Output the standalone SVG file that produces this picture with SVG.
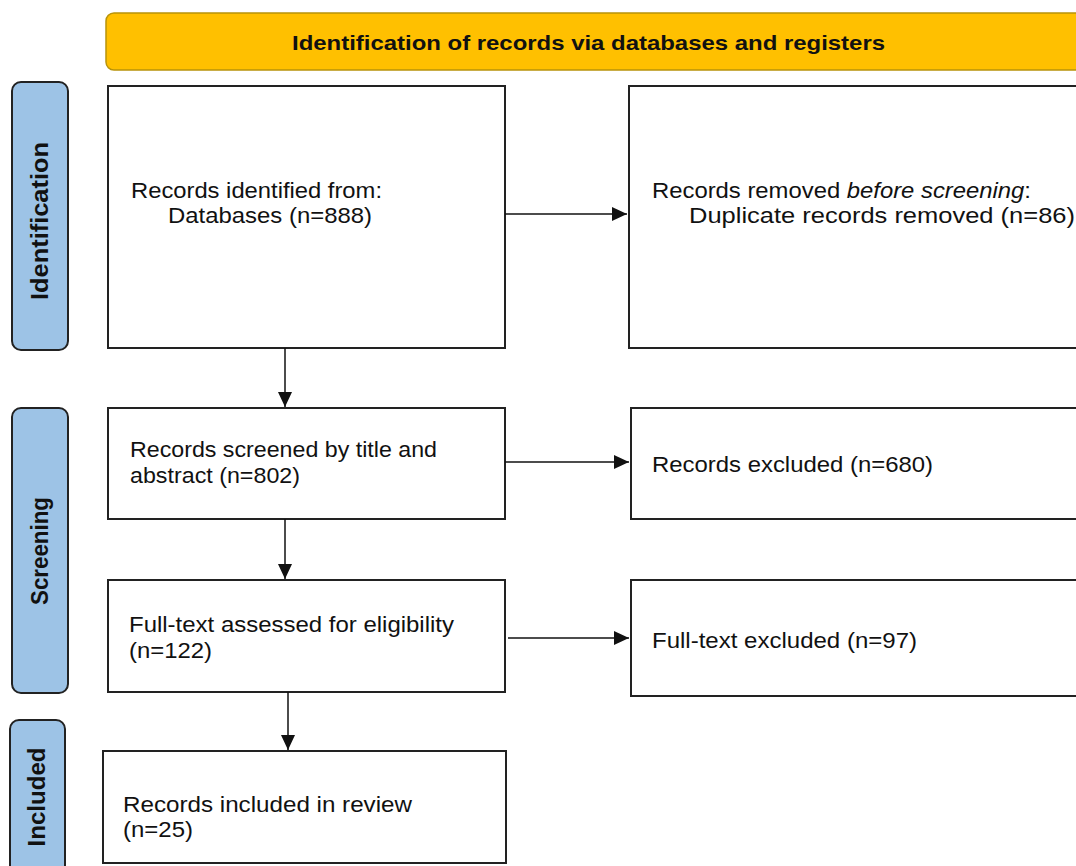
<svg xmlns="http://www.w3.org/2000/svg" width="1076" height="866" viewBox="0 0 1076 866">
<defs>
<marker id="ah" markerWidth="15" markerHeight="14" refX="15" refY="7" orient="auto" markerUnits="userSpaceOnUse">
<path d="M0,0 L15,7 L0,14 Z" fill="#111"/>
</marker>
<style>
.box{fill:#fff;stroke:#222;stroke-width:2}
.side{fill:#9DC3E6;stroke:#222;stroke-width:2}
.banner{fill:#FFC000;stroke:#B8930A;stroke-width:1.5}
.t{font-family:"Liberation Sans",Arial,sans-serif;font-size:22.5px;fill:#111}
.b{font-family:"Liberation Sans",Arial,sans-serif;font-size:21px;font-weight:bold;fill:#111}
.s{font-family:"Liberation Sans",Arial,sans-serif;font-size:23px;font-weight:bold;fill:#111}
.c{stroke:#111;stroke-width:1.5;fill:none;marker-end:url(#ah)}
</style>
</defs>
<rect width="1076" height="866" fill="#fff"/>
<g id="banner">
<rect class="banner" x="106" y="13" width="990" height="57" rx="8"/>
<text class="b" x="292" y="50" textLength="593" lengthAdjust="spacingAndGlyphs">Identification of records via databases and registers</text>
</g>
<g id="phase-identification">
<rect class="side" x="12" y="82" width="56" height="268" rx="9"/>
<text class="s" transform="translate(48,221) rotate(-90)" text-anchor="middle" textLength="158" lengthAdjust="spacingAndGlyphs">Identification</text>
</g>
<g id="phase-screening">
<rect class="side" x="12" y="408" width="56" height="285" rx="9"/>
<text class="s" transform="translate(48,551) rotate(-90)" text-anchor="middle" textLength="108" lengthAdjust="spacingAndGlyphs">Screening</text>
</g>
<g id="phase-included">
<rect class="side" x="10" y="720" width="55" height="170" rx="9"/>
<text class="s" transform="translate(45,797) rotate(-90)" text-anchor="middle" textLength="99" lengthAdjust="spacingAndGlyphs">Included</text>
</g>
<g id="n-identified">
<rect class="box" x="108" y="86" width="397" height="262"/>
<text class="t" x="131" y="198" textLength="251" lengthAdjust="spacingAndGlyphs">Records identified from:</text>
<text class="t" x="168" y="223" textLength="204" lengthAdjust="spacingAndGlyphs">Databases (n=888)</text>
</g>
<g id="n-removed">
<rect class="box" x="629" y="86" width="470" height="262"/>
<text class="t" x="652" y="198" textLength="379" lengthAdjust="spacingAndGlyphs">Records removed <tspan font-style="italic">before screening</tspan>:</text>
<text class="t" x="689" y="223" textLength="386" lengthAdjust="spacingAndGlyphs">Duplicate records removed (n=86)</text>
</g>
<g id="n-screened">
<rect class="box" x="108" y="408" width="397" height="111"/>
<text class="t" x="130" y="457" textLength="307" lengthAdjust="spacingAndGlyphs">Records screened by title and</text>
<text class="t" x="130" y="483" textLength="170" lengthAdjust="spacingAndGlyphs">abstract (n=802)</text>
</g>
<g id="n-excluded">
<rect class="box" x="631" y="408" width="470" height="111"/>
<text class="t" x="652" y="472" textLength="281" lengthAdjust="spacingAndGlyphs">Records excluded (n=680)</text>
</g>
<g id="n-fulltext">
<rect class="box" x="108" y="580" width="397" height="112"/>
<text class="t" x="129" y="632" textLength="325" lengthAdjust="spacingAndGlyphs">Full-text assessed for eligibility</text>
<text class="t" x="129" y="658" textLength="83" lengthAdjust="spacingAndGlyphs">(n=122)</text>
</g>
<g id="n-ftexcluded">
<rect class="box" x="631" y="580" width="470" height="116"/>
<text class="t" x="652" y="648" textLength="265" lengthAdjust="spacingAndGlyphs">Full-text excluded (n=97)</text>
</g>
<g id="n-included">
<rect class="box" x="103" y="751" width="403" height="112"/>
<text class="t" x="123" y="812" textLength="289" lengthAdjust="spacingAndGlyphs">Records included in review</text>
<text class="t" x="123" y="837" textLength="70" lengthAdjust="spacingAndGlyphs">(n=25)</text>
</g>
<g id="connectors">
<line class="c" x1="505" y1="214" x2="627" y2="214"/>
<line class="c" x1="505" y1="462" x2="629" y2="462"/>
<line class="c" x1="508" y1="638" x2="629" y2="638"/>
<line class="c" x1="285" y1="348" x2="285" y2="407"/>
<line class="c" x1="285" y1="519" x2="285" y2="579"/>
<line class="c" x1="288" y1="692" x2="288" y2="750"/>
</g>
</svg>
